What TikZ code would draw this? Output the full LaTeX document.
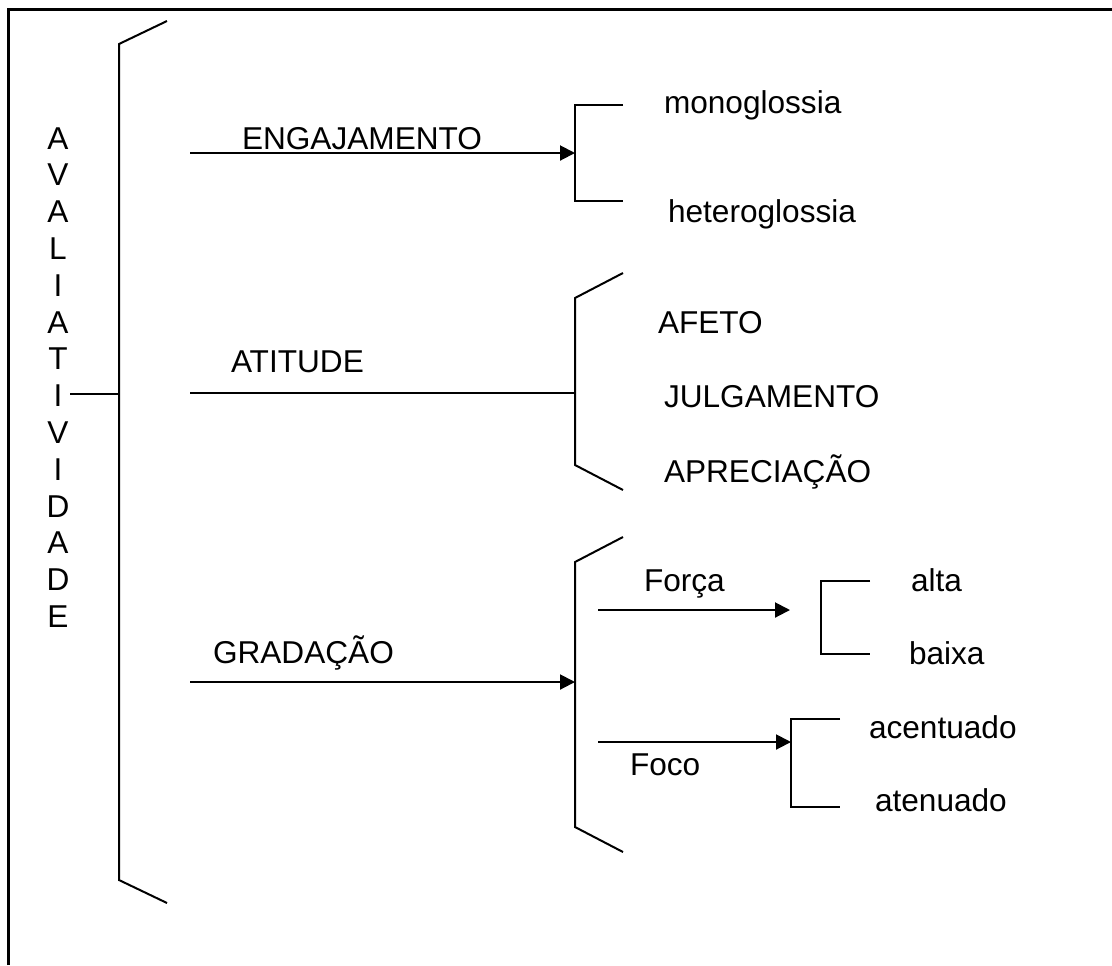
\documentclass[tikz,border=0pt]{standalone}
\usepackage{fontspec}
\setmainfont{Liberation Sans}
\usetikzlibrary{arrows.meta, positioning}

\begin{document}
\begin{tikzpicture}[x=0.5pt, y=-0.5pt, line width=1pt,
    lbl/.style={anchor=base west, inner sep=0pt, font=\fontsize{15.8}{18}\selectfont},
    arr/.style={-{Triangle[length=7.5pt, width=7.5pt]}}]
  \useasboundingbox (0,0) rectangle (1112,965);

  % Frame
  \draw[line width=1.5pt] (8,965) -- (8,9) -- (1112,9);

  % Vertical title
  \foreach \ch [count=\i from 0] in {A,V,A,L,I,A,T,I,V,I,D,A,D,E}
    \node[lbl, anchor=base] (t\i) at (58, 149+36.8*\i) {\ch};

  % Main bracket
  \coordinate (mtop) at (119,44);
  \coordinate (mbot) at (119,880);
  \coordinate (mmid) at (119,394);
  \coordinate (avl)  at (70,394);
  \draw (167,21) -- (mtop) -- (mbot) -- (167,903);
  \draw (avl) -- (mmid);

  % Engajamento
  \coordinate (engS) at (190,153);
  \coordinate (engB) at (575,153);
  \node[lbl] (eng) at (241,149) {ENGAJAMENTO};
  \draw[arr] (engS) -- (engB);
  \draw (623,105) -- (575,105) -- (575,201) -- (623,201);
  \node[lbl] (mono)   at (663,113) {monoglossia};
  \node[lbl] (hetero) at (667,222) {heteroglossia};

  % Atitude
  \coordinate (attS) at (190,393);
  \coordinate (attB) at (575,393);
  \node[lbl] (att) at (230,372) {ATITUDE};
  \draw (attS) -- (attB);
  \draw (623,273) -- (575,298) -- (575,465) -- (623,490);
  \node[lbl] (afeto) at (657,333) {AFETO};
  \node[lbl] (julg)  at (663,407) {JULGAMENTO};
  \node[lbl] (aprec) at (663,482) {APRECIAÇÃO};

  % Gradacao
  \coordinate (gradS) at (190,682);
  \coordinate (gradB) at (575,682);
  \node[lbl] (grad) at (212,663) {GRADAÇÃO};
  \draw[arr] (gradS) -- (gradB);
  \draw (623,537) -- (575,562) -- (575,827) -- (623,852);

  % Forca
  \coordinate (forS) at (598,610);
  \coordinate (forE) at (790,610);
  \node[lbl] (forca) at (643,591) {Força};
  \draw[arr] (forS) -- (forE);
  \draw (870,581) -- (821,581) -- (821,654) -- (870,654);
  \node[lbl] (alta)  at (910,591) {alta};
  \node[lbl] (baixa) at (908,664) {baixa};

  % Foco
  \coordinate (focS) at (598,742);
  \coordinate (focB) at (791,742);
  \node[lbl] (foco) at (629,775) {Foco};
  \draw[arr] (focS) -- (focB);
  \draw (840,719) -- (791,719) -- (791,807) -- (840,807);
  \node[lbl] (acent) at (868,738) {acentuado};
  \node[lbl] (atenu) at (874,811) {atenuado};
\end{tikzpicture}
\end{document}
